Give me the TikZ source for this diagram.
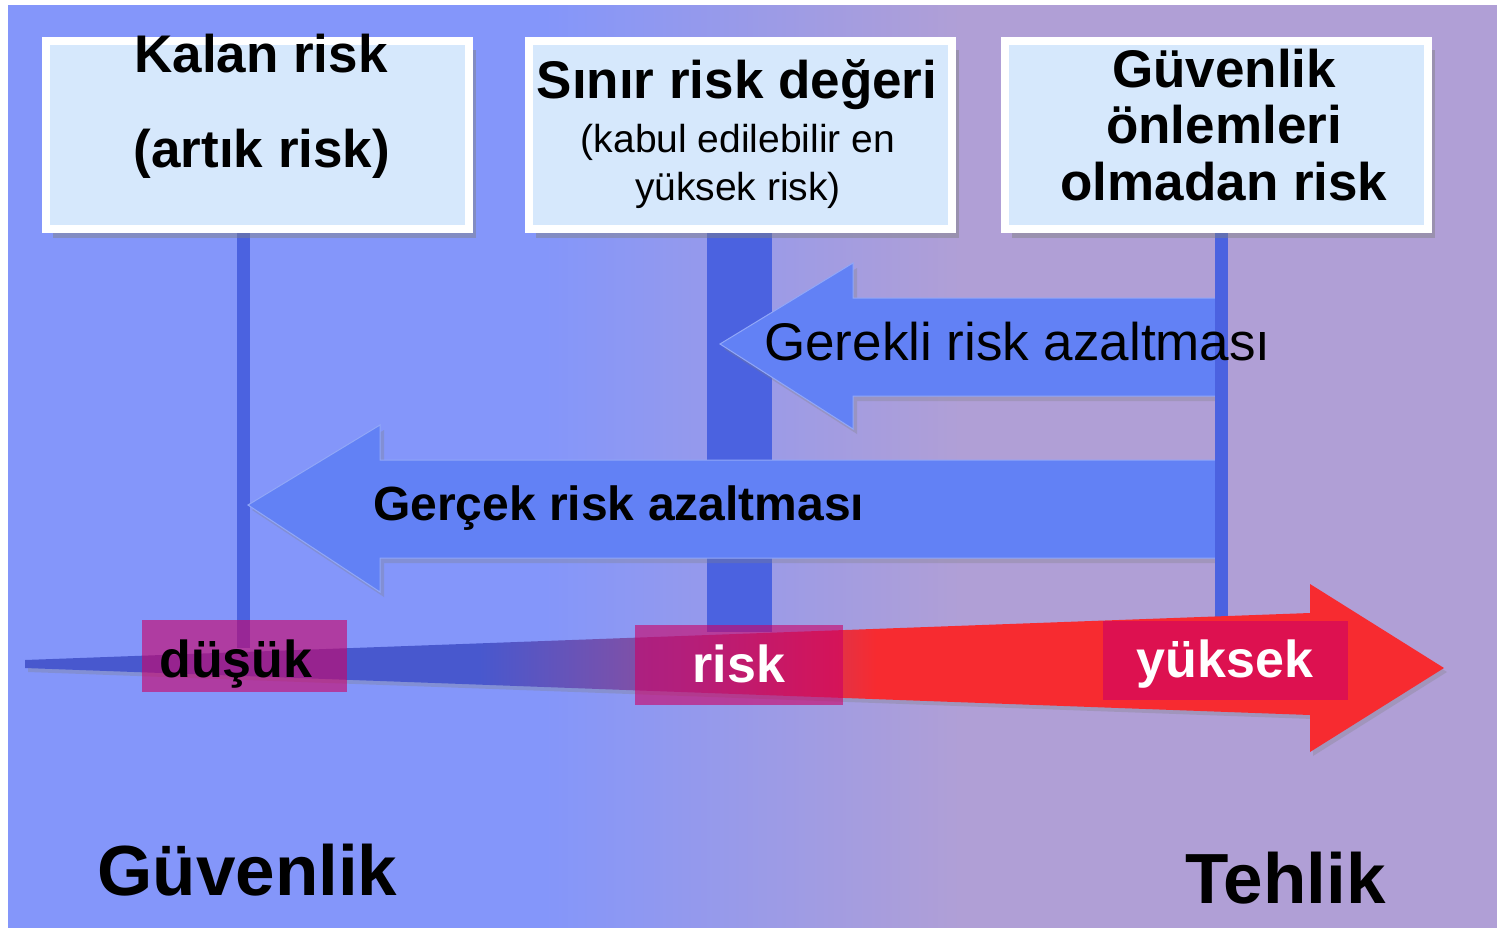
\documentclass[tikz,border=0pt]{standalone}
\usepackage{fontspec}
\setmainfont{Liberation Sans}
\usetikzlibrary{shadows}
\definecolor{bgL}{HTML}{8496FA}
\definecolor{bgR}{HTML}{B09FD6}
\definecolor{boxfill}{HTML}{D6E8FC}
\definecolor{vline}{HTML}{4B62E0}
\definecolor{arrowc}{HTML}{6281F5}
\definecolor{rb}{HTML}{4858CE}
\definecolor{rm}{HTML}{8C4E9E}
\definecolor{rr}{HTML}{F72B30}
\definecolor{lab}{HTML}{CC0066}
\pgfdeclarehorizontalshading{bgshade}{100bp}{color(0bp)=(bgL); color(43bp)=(bgL); color(57bp)=(bgR); color(100bp)=(bgR)}
\pgfdeclarehorizontalshading{riskshade}{100bp}{color(0bp)=(rb); color(41bp)=(rb); color(48bp)=(rm); color(55bp)=(rr); color(100bp)=(rr)}
\tikzset{
  box/.style={draw=white, line width=8pt, fill=boxfill, minimum width=423pt, minimum height=188pt, inner sep=0pt,
    drop shadow={shadow xshift=7pt, shadow yshift=-9pt, opacity=0.45}},
  title/.style={anchor=base, font=\fontsize{53}{58}\selectfont\bfseries, inner sep=0pt},
  sub/.style={anchor=base, font=\fontsize{39}{44}\selectfont, inner sep=0pt},
  vl/.style={fill=vline, draw=none},
  bluearrow/.style={fill=arrowc, draw=arrowc!70!white, line width=1pt,
    drop shadow={shadow xshift=4pt, shadow yshift=-5pt, opacity=0.3}},
  labbox/.style={fill=lab, fill opacity=0.6, draw=none, inner sep=0pt},
  labtxt/.style={anchor=base, font=\fontsize{52}{56}\selectfont\bfseries, inner sep=0pt},
  big/.style={anchor=base, font=\fontsize{71}{76}\selectfont\bfseries, inner sep=0pt},
}
\begin{document}
\begin{tikzpicture}[x=1pt,y=-1pt]
\useasboundingbox (0,0) rectangle (1497,927);
\fill[white] (0,0) rectangle (1497,927);
\shade[shading=bgshade] (8,5) rectangle (1497,927);

% box positions
\coordinate (c1) at (257.5,135);
\coordinate (c2) at (740.5,135);
\coordinate (c3) at (1216.5,135);
\coordinate (l1) at (243.5,648);
\coordinate (l2) at (739.5,632);
\coordinate (l3) at (1221.5,617);

% vertical lines 1 and 2 (drawn under the boxes)
\fill[vl] ([xshift=-6.5pt]c1 -| l1) rectangle ([xshift=6.5pt]l1);
\fill[vl] ([xshift=-32.5pt]c2 -| l2) rectangle ([xshift=32.5pt]l2);

% boxes
\node[box] (b1) at (c1) {};
\node[box] (b2) at (c2) {};

% blue arrows
\coordinate (g1tip) at (720,344);
\coordinate (g2tip) at (248,505);
\path[bluearrow] (g1tip) -- (853,263) -- (853,298) -- (1218,298) -- (1218,396) -- (853,396) -- (853,429) -- cycle;
\path[bluearrow] (g2tip) -- (380,425) -- (380,460) -- (1217,460) -- (1217,558) -- (380,558) -- (380,592) -- cycle;

% vertical line 3 and its box
\fill[vl] ([xshift=-6.5pt]c3 -| l3) rectangle ([xshift=6.5pt]l3);
\node[box] (b3) at (c3) {};

% risk axis arrow
\coordinate (rs) at (25,664);
\coordinate (rt) at (1444,668);
\path[shading=riskshade, drop shadow={shadow xshift=3pt, shadow yshift=-4pt, opacity=0.3}]
  ([yshift=4pt]rs) -- (1310,613) -- (1310,584) -- (rt) -- (1310,752) -- (1310,715) -- ([yshift=-4pt]rs) -- cycle;

% labels on axis
\node[labbox, minimum width=205pt, minimum height=72pt] (lb1) at (244.5,656) {};
\node[labbox, minimum width=208pt, minimum height=80pt] (lb2) at (739,665) {};
\node[labbox, minimum width=245pt, minimum height=79pt] (lb3) at (1225.5,660.5) {};
\node[labtxt] (d1) at (236,677) {düşük};
\node[labtxt, text=white] (d2) at (739,682) {risk};
\node[labtxt, text=white] (d3) at (1225,677) {yüksek};

% box texts
\node[title] (t1a) at (261,72) {Kalan risk};
\node[title] (t1b) at (262,167) {(artık risk)};
\node[title] (t2a) at (737,98) {Sınır risk değeri};
\node[sub] (t2b) at (738,152) {(kabul edilebilir en};
\node[sub] (t2c) at (738,200) {yüksek risk)};
\node[title] (t3a) at (1224,87) {Güvenlik};
\node[title] (t3b) at (1224,143) {önlemleri};
\node[title] (t3c) at (1224,200) {olmadan risk};

% arrow texts
\node[anchor=base west, inner sep=0pt, font=\fontsize{53}{58}\selectfont] (a1) at (764,360) {Gerekli risk azaltması};
\node[anchor=base west, inner sep=0pt, font=\fontsize{48}{52}\selectfont\bfseries] (a2) at (373,520) {Gerçek risk azaltması};

% bottom words
\node[big] (w1) at (247.5,895) {Güvenlik};
\node[big] (w2) at (1285.5,903) {Tehlik};
\end{tikzpicture}
\end{document}
